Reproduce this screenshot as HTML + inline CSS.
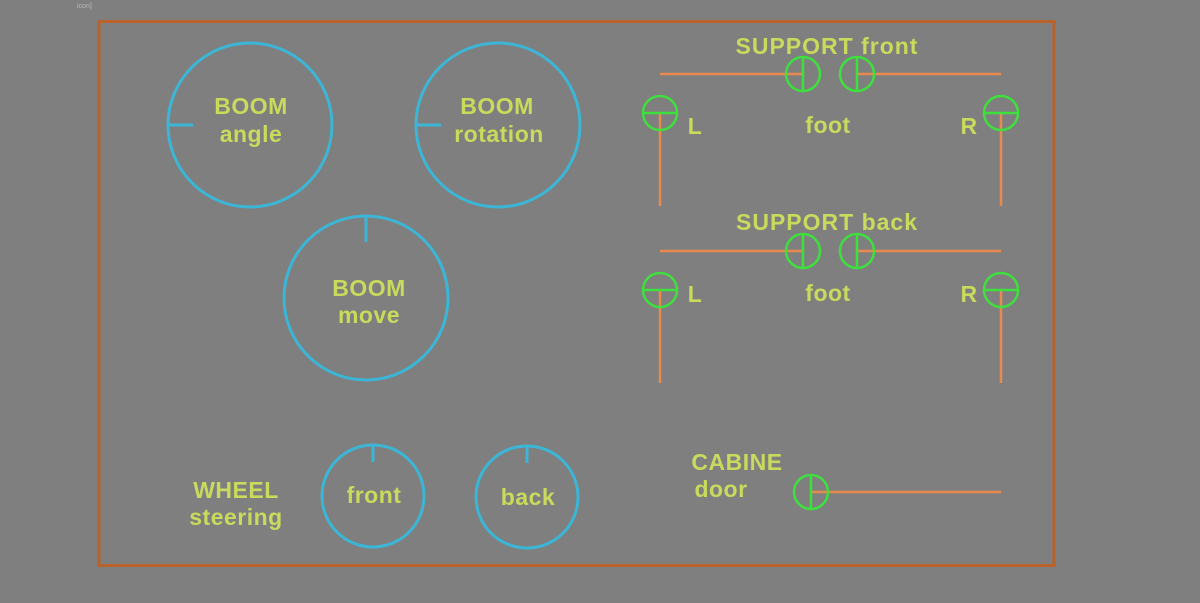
<!DOCTYPE html>
<html><head><style>body{margin:0;background:#7f7f7f}</style></head><body>
<svg width="1200" height="603" xmlns="http://www.w3.org/2000/svg" style="display:block">
<rect width="1200" height="603" fill="#7f7f7f"/>
<text x="77" y="8" font-family="Liberation Sans" font-size="7" fill="#bbb">icon]</text>
<rect x="99" y="21.5" width="955" height="544" fill="none" stroke="#b9622b" stroke-width="3"/>
<g fill="none" stroke="#3cb6d6" stroke-width="3">
<circle cx="250" cy="125" r="82"/><line x1="168" y1="125" x2="193" y2="125"/>
<circle cx="498" cy="125" r="82"/><line x1="416" y1="125" x2="441" y2="125"/>
<circle cx="366" cy="298" r="82"/><line x1="366" y1="216" x2="366" y2="242"/>
<circle cx="373" cy="496" r="51"/><line x1="373" y1="445" x2="373" y2="462"/>
<circle cx="527" cy="497" r="51"/><line x1="527" y1="446" x2="527" y2="463"/>
</g>
<g stroke="#e88a4f" stroke-width="2.5" fill="none">
<line x1="660" y1="74" x2="803" y2="74"/><line x1="857" y1="74" x2="1001" y2="74"/>
<line x1="660" y1="113" x2="660" y2="206"/><line x1="1001" y1="113" x2="1001" y2="206"/>
<line x1="660" y1="251" x2="803" y2="251"/><line x1="857" y1="251" x2="1001" y2="251"/>
<line x1="660" y1="290" x2="660" y2="383"/><line x1="1001" y1="290" x2="1001" y2="383"/>
<line x1="811" y1="492" x2="1001" y2="492"/>
</g>
<g stroke="#3ee03e" stroke-width="2.5" fill="none">
<circle cx="803" cy="74" r="17"/><line x1="803" y1="57" x2="803" y2="91"/>
<circle cx="857" cy="74" r="17"/><line x1="857" y1="57" x2="857" y2="91"/>
<circle cx="660" cy="113" r="17"/><line x1="643" y1="113" x2="677" y2="113"/>
<circle cx="1001" cy="113" r="17"/><line x1="984" y1="113" x2="1018" y2="113"/>
<circle cx="803" cy="251" r="17"/><line x1="803" y1="234" x2="803" y2="268"/>
<circle cx="857" cy="251" r="17"/><line x1="857" y1="234" x2="857" y2="268"/>
<circle cx="660" cy="290" r="17"/><line x1="643" y1="290" x2="677" y2="290"/>
<circle cx="1001" cy="290" r="17"/><line x1="984" y1="290" x2="1018" y2="290"/>
<circle cx="811" cy="492" r="17"/><line x1="811" y1="475" x2="811" y2="509"/>
</g>
<g font-family="Liberation Sans, sans-serif" font-size="23" font-weight="bold" fill="#c9da5c" text-anchor="middle" letter-spacing="0.5">
<text x="251" y="114">BOOM</text><text x="251" y="142">angle</text>
<text x="497" y="114">BOOM</text><text x="499" y="142">rotation</text>
<text x="369" y="296">BOOM</text><text x="369" y="323">move</text>
<text x="374" y="503">front</text><text x="528" y="505">back</text>
<text x="236" y="498">WHEEL</text><text x="236" y="525">steering</text>
<text x="827" y="54" letter-spacing="1">SUPPORT front</text>
<text x="827" y="230" letter-spacing="1">SUPPORT back</text>
<text x="828" y="133">foot</text><text x="828" y="301">foot</text>
<text x="695" y="134">L</text><text x="969" y="134">R</text>
<text x="695" y="302">L</text><text x="969" y="302">R</text>
<text x="737" y="470">CABINE</text><text x="721" y="497">door</text>
</g>
</svg>
</body></html>
